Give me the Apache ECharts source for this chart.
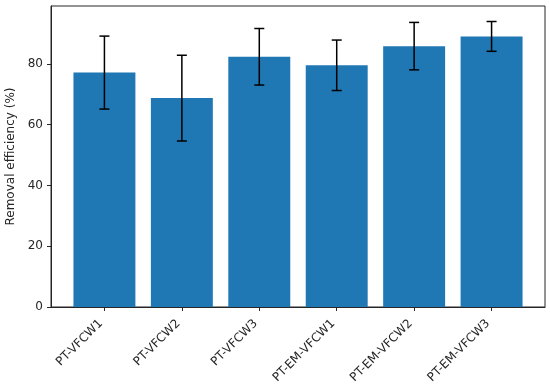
<!DOCTYPE html>
<html><head><meta charset="utf-8">
<script src="https://cdn.jsdelivr.net/npm/echarts@6/dist/echarts.min.js"></script>
<style>html,body{margin:0;padding:0;background:#fff}#c{width:550px;height:386px}</style>
</head><body><div id="c"></div>
<script>
const categories = ['PT-VFCW1','PT-VFCW2','PT-VFCW3','PT-EM-VFCW1','PT-EM-VFCW2','PT-EM-VFCW3'];
const means = [77.1, 68.7, 82.3, 79.5, 85.8, 89.0];
const errs = [12.0, 14.1, 9.3, 8.3, 7.8, 4.9];
const yTicks = [0, 20, 40, 60, 80];

const positions = categories.map((c, i) => i);
const barData = means.map((m, i) => [i, m]);
const errData = means.map((m, i) => [i, m - errs[i], m + errs[i]]);
const font = 'DejaVu Sans';

const chart = echarts.init(document.getElementById('c'), null, {renderer: 'canvas'});
chart.setOption({
  animation: false,
  grid: {left: 51, right: 5, top: 6, bottom: 79, containLabel: false, outerBoundsMode: 'none',
    show: true, borderColor: '#262626', borderWidth: 1, backgroundColor: 'transparent'},
  xAxis: {
    type: 'value', min: -0.69, max: 5.69,
    axisLine: {show: true, onZero: false, lineStyle: {color: '#262626', width: 1}},
    splitLine: {show: false},
    axisTick: {show: true, customValues: positions, length: 4, lineStyle: {color: '#262626'}},
    axisLabel: {customValues: positions, rotate: 45, margin: 11, padding: [0, 5, 0, 0],
      fontFamily: font, fontSize: 12, color: '#262626',
      formatter: v => categories[Math.round(v)]}
  },
  yAxis: {
    type: 'value', min: 0, max: 99,
    name: 'Removal efficiency (%)', nameLocation: 'middle', nameGap: 29,
    nameTextStyle: {fontFamily: font, fontSize: 12, color: '#262626'},
    axisLine: {show: true, onZero: false, lineStyle: {color: '#262626', width: 1}},
    splitLine: {show: false},
    axisTick: {show: true, customValues: yTicks, length: 4, lineStyle: {color: '#262626'}},
    axisLabel: {customValues: yTicks, margin: 8, fontFamily: font, fontSize: 12, color: '#262626'}
  },
  series: [
    {
      type: 'custom', data: barData, z: 2,
      renderItem: (params, api) => {
        const x = api.value(0), y = api.value(1);
        const p0 = api.coord([x - 0.4, y]);
        const p1 = api.coord([x + 0.4, 0]);
        return {type: 'rect', shape: {x: p0[0], y: p0[1], width: p1[0] - p0[0], height: p1[1] - p0[1]},
          style: {fill: '#1f77b4'}};
      }
    },
    {
      type: 'custom', data: errData, z: 3,
      renderItem: (params, api) => {
        const x = api.value(0);
        const lo = api.coord([x, api.value(1)]);
        const hi = api.coord([x, api.value(2)]);
        const cap = 5;
        const st = {stroke: '#000', lineWidth: 1.5};
        return {type: 'group', children: [
          {type: 'line', shape: {x1: lo[0], y1: lo[1], x2: hi[0], y2: hi[1]}, style: st},
          {type: 'line', shape: {x1: lo[0] - cap, y1: lo[1], x2: lo[0] + cap, y2: lo[1]}, style: st},
          {type: 'line', shape: {x1: hi[0] - cap, y1: hi[1], x2: hi[0] + cap, y2: hi[1]}, style: st}
        ]};
      }
    }
  ]
});
</script></body></html>
